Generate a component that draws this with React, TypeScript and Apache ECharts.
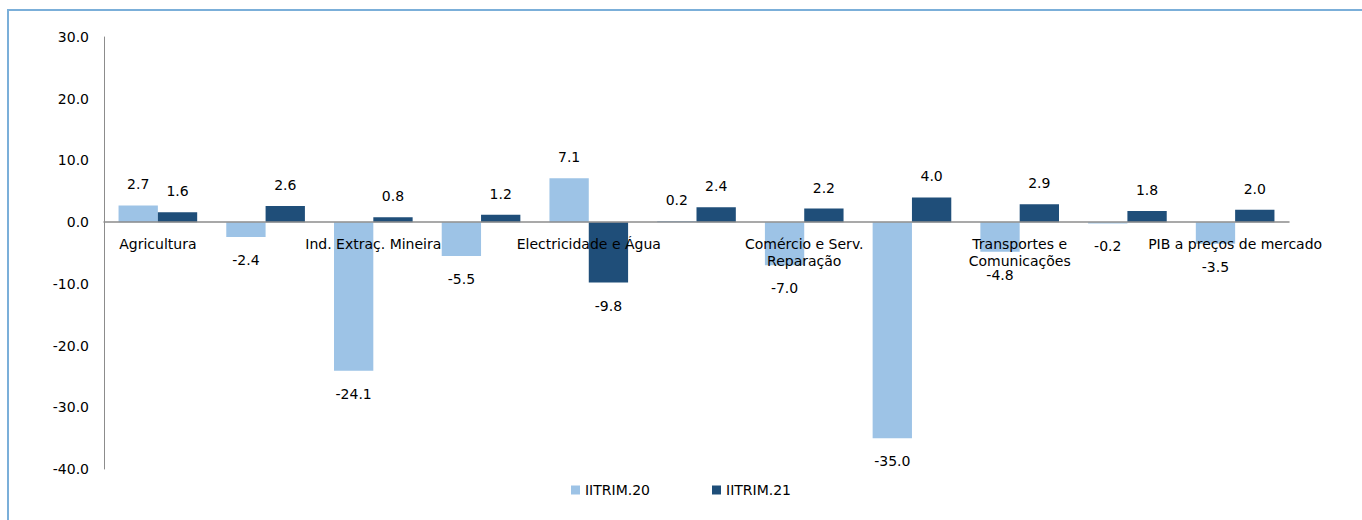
import React, { useEffect, useRef } from "react";
import * as echarts from "echarts";

const categories = [
  "Agricultura",
  "Pesca",
  "Ind. Extraç. Mineira",
  "Ind. Transformadora",
  "Electricidade e Água",
  "Construção",
  "Comércio e Serv.\nReparação",
  "Alojamento e Restauração",
  "Transportes e\nComunicações",
  "Serviços Financeiros",
  "PIB a preços de mercado",
];
const iitrim20 = [2.7, -2.4, -24.1, -5.5, 7.1, 0.2, -7.0, -35.0, -4.8, -0.2, -3.5];
const iitrim21 = [1.6, 2.6, 0.8, 1.2, -9.8, 2.4, 2.2, 4.0, 2.9, 1.8, 2.0];
const seriesNames = ["IITRIM.20", "IITRIM.21"];

const FONT = "DejaVu Sans";

function toItems(values: number[]) {
  return values.map((v) => ({
    value: v,
    label: { position: v < 0 ? "bottom" : "top", distance: v < 0 ? 16 : 14 },
  }));
}

export default function App() {
  const ref = useRef<HTMLDivElement>(null);
  useEffect(() => {
    if (!ref.current) return;
    const chart = echarts.init(ref.current, undefined, { renderer: "svg" });
    const labelStyle = {
      show: true,
      color: "#000",
      fontFamily: FONT,
      fontSize: 14,
      formatter: (p: any) => Number(p.value).toFixed(1),
    };
    const gridTop = 37;
    const gridBottom = 51;
    const plotH = 520 - gridTop - gridBottom;
    const yMin = -40;
    const yMax = 30;
    const zeroOffset = -(plotH * (0 - yMin)) / (yMax - yMin);
    chart.setOption({
      animation: false,
      backgroundColor: "#fff",
      textStyle: { fontFamily: FONT },
      graphic: [
        {
          type: "rect",
          shape: { x: 8, y: 10, width: 1400, height: 600 },
          style: { fill: "none", stroke: "#7BAFD9", lineWidth: 2 },
          silent: true,
        },
      ],
      grid: { left: 104, right: 73, top: gridTop, bottom: gridBottom, containLabel: false },
      legend: {
        data: seriesNames,
        bottom: 18,
        left: "center",
        itemWidth: 9,
        itemHeight: 9,
        itemGap: 62,
        icon: "rect",
        textStyle: { fontFamily: FONT, fontSize: 14, color: "#000" },
      },
      xAxis: {
        type: "category",
        data: categories,
        z: 10,
        position: "bottom",
        offset: zeroOffset,
        axisLine: { onZero: false, lineStyle: { color: "#8C8C8C", width: 1.5 } },
        axisTick: { show: false },
        axisLabel: {
          interval: 1,
          color: "#000",
          fontFamily: FONT,
          fontSize: 14,
          margin: 13,
          lineHeight: 17,
        },
      },
      yAxis: {
        type: "value",
        min: yMin,
        max: yMax,
        interval: 10,
        splitLine: { show: false },
        axisTick: { show: false },
        axisLine: { show: true, lineStyle: { color: "#8C8C8C", width: 1 } },
        axisLabel: {
          color: "#000",
          fontFamily: FONT,
          fontSize: 14,
          margin: 15,
          formatter: (v: number) => v.toFixed(1),
        },
      },
      series: [
        {
          name: seriesNames[0],
          type: "bar",
          data: toItems(iitrim20),
          itemStyle: { color: "#9DC3E6" },
          barGap: "0%",
          barCategoryGap: "27%",
          label: labelStyle,
        },
        {
          name: seriesNames[1],
          type: "bar",
          data: toItems(iitrim21),
          itemStyle: { color: "#1F4E79" },
          barGap: "0%",
          barCategoryGap: "27%",
          label: labelStyle,
        },
      ],
    });
    return () => chart.dispose();
  }, []);
  return (
    <div
      ref={ref}
      style={{ position: "absolute", left: 0, top: 0, width: 1362, height: 520 }}
    />
  );
}
